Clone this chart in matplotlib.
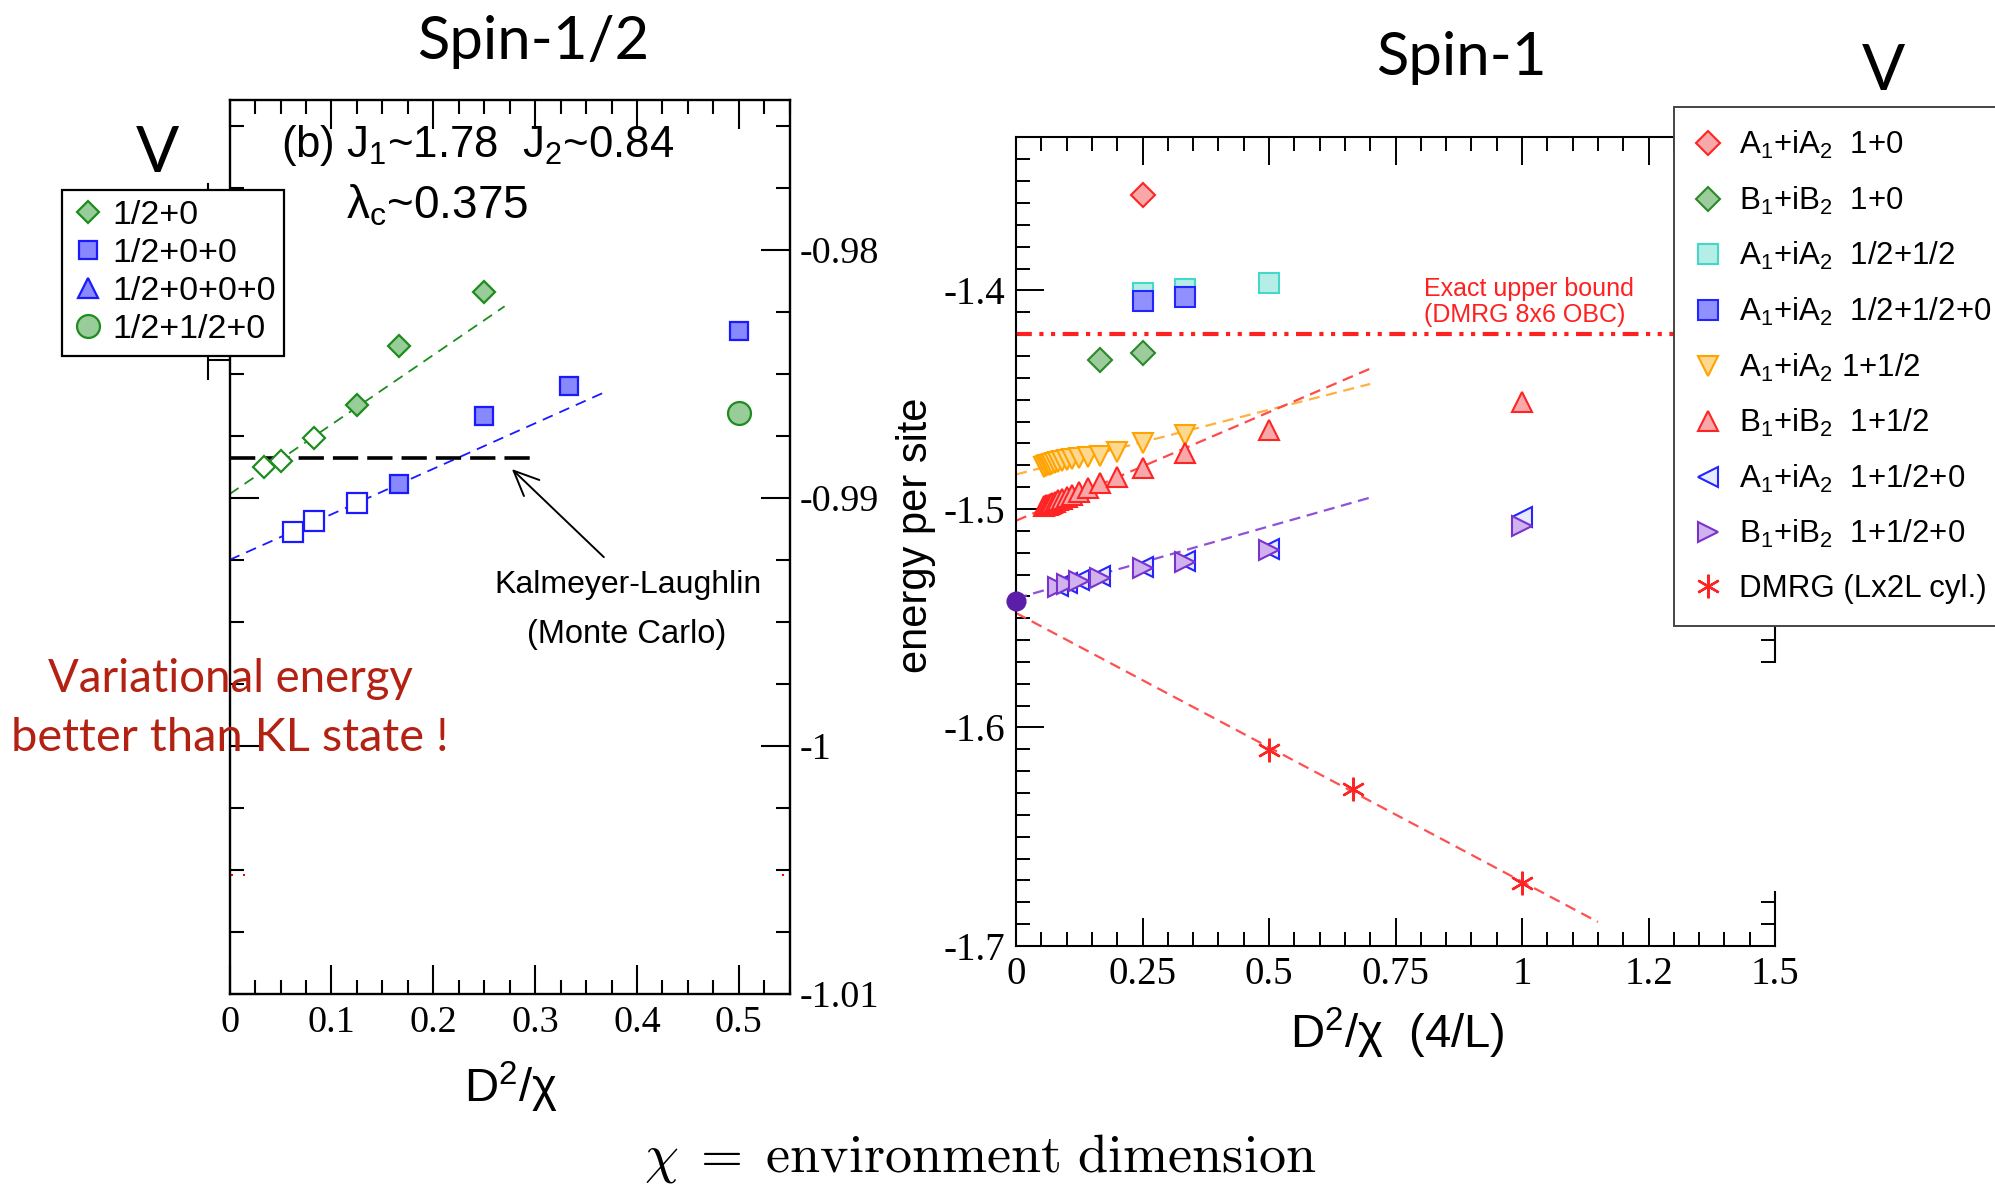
import matplotlib
matplotlib.use('Agg')
import matplotlib.pyplot as plt
from matplotlib.ticker import MultipleLocator, FixedLocator, FixedFormatter, FuncFormatter
from matplotlib.patches import Rectangle
from matplotlib.lines import Line2D

plt.rcParams['font.family'] = ['Liberation Sans', 'DejaVu Sans']
plt.rcParams['mathtext.fontset'] = 'custom'
plt.rcParams['mathtext.rm'] = 'Liberation Sans'
plt.rcParams['mathtext.it'] = 'Liberation Sans:italic'
plt.rcParams['mathtext.bf'] = 'Liberation Sans:bold'
plt.rcParams['axes.unicode_minus'] = False

# ---------------- data: Spin-1/2 panel ----------------
s12_a_open_x = [0.0333, 0.05, 0.0833]
s12_a_open_y = [-0.98877, -0.98853, -0.98758]
s12_a_fill_x = [0.125, 0.1667, 0.25]
s12_a_fill_y = [-0.98625, -0.98386, -0.98170]
s12_b_open_x = [0.0625, 0.0833, 0.125]
s12_b_open_y = [-0.99136, -0.99093, -0.99019]
s12_b_fill_x = [0.1667, 0.25, 0.3333, 0.5]
s12_b_fill_y = [-0.98946, -0.98671, -0.98548, -0.98329]
s12_c_x = []          # 1/2+0+0+0 (legend entry only)
s12_c_y = []
s12_d_x = [0.5]
s12_d_y = [-0.98657]
s12_fit_a_x = [0.0, 0.27]
s12_fit_a_y = [-0.98985, -0.98228]
s12_fit_b_x = [0.0, 0.37]
s12_fit_b_y = [-0.99250, -0.98571]
kl_x = [0.0, 0.30]
kl_y = [-0.98841, -0.98841]
s12_red_x = [0.0024, 0.014, 0.543]
s12_red_y = [-1.0052, -1.0052, -1.0052]
s12_labels = ['1/2+0', '1/2+0+0', '1/2+0+0+0', '1/2+1/2+0']
s12_xticks = [0, 0.1, 0.2, 0.3, 0.4, 0.5]
s12_yticks = [-1.01, -1.0, -0.99, -0.98]
s12_yticklabels = ['-1.01', '-1', '-0.99', '-0.98']

# ---------------- data: Spin-1 panel ----------------
a10_x = [0.25]
a10_y = [-1.3565]
b10_x = [0.1667, 0.25]
b10_y = [-1.4319, -1.4286]
ahh_x = [0.25, 0.3333, 0.5]
ahh_y = [-1.4012, -1.3994, -1.3966]
ahh0_x = [0.25, 0.3333]
ahh0_y = [-1.4047, -1.4029]
a1h_x = [0.0556, 0.0588, 0.0625, 0.0667, 0.0714, 0.0769, 0.0833, 0.0909,
         0.1, 0.1111, 0.125, 0.1429, 0.1667, 0.2, 0.25, 0.3333]
a1h_y = [-1.4806, -1.4803, -1.4800, -1.4797, -1.4794, -1.4790, -1.4786, -1.4782,
         -1.4778, -1.4773, -1.4768, -1.4763, -1.4758, -1.4738, -1.4697, -1.4662]
b1h_x = [0.0556, 0.0588, 0.0625, 0.0667, 0.0714, 0.0769, 0.0833, 0.0909,
         0.1, 0.1111, 0.125, 0.1429, 0.1667, 0.2, 0.25, 0.3333, 0.5, 1.0]
b1h_y = [-1.4987, -1.4984, -1.4980, -1.4976, -1.4972, -1.4967, -1.4961, -1.4954,
         -1.4945, -1.4935, -1.4922, -1.4905, -1.4883, -1.4855, -1.4811, -1.4746,
         -1.4640, -1.4510]
a1h0_x = [0.0833, 0.1, 0.125, 0.1667, 0.25, 0.3333, 0.5, 1.0]
a1h0_y = [-1.5352, -1.5338, -1.5325, -1.5308, -1.5266, -1.5238, -1.5182, -1.5035]
b1h0_x = [0.0833, 0.1, 0.125, 0.1667, 0.25, 0.3333, 0.5, 1.0]
b1h0_y = [-1.5358, -1.5344, -1.5330, -1.5314, -1.5272, -1.5243, -1.5188, -1.5078]
dmrg_x = [0.5, 0.6667, 1.0]
dmrg_y = [-1.6101, -1.6280, -1.6712]
extrap_x = [0.0]
extrap_y = [-1.5422]
fit_a1h_x = [0.0, 0.70]
fit_a1h_y = [-1.4842, -1.4428]
fit_b1h_x = [0.0, 0.70]
fit_b1h_y = [-1.5054, -1.4358]
fit_h0_x = [0.0, 0.70]
fit_h0_y = [-1.5409, -1.4948]
fit_dmrg_x = [0.0, 1.15]
fit_dmrg_y = [-1.5476, -1.6890]
bound_x = [0.0, 1.5]
bound_y = [-1.42, -1.42]
s1_labels = ['A$_1$+iA$_2$  1+0', 'B$_1$+iB$_2$  1+0', 'A$_1$+iA$_2$  1/2+1/2',
             'A$_1$+iA$_2$  1/2+1/2+0', 'A$_1$+iA$_2$ 1+1/2', 'B$_1$+iB$_2$  1+1/2',
             'A$_1$+iA$_2$  1+1/2+0', 'B$_1$+iB$_2$  1+1/2+0', 'DMRG (Lx2L cyl.)']
s1_xticks = [0, 0.25, 0.5, 0.75, 1.0, 1.25, 1.5]
s1_xticklabels = ['0', '0.25', '0.5', '0.75', '1', '1.2', '1.5']

W, H = 1995, 1186
fig = plt.figure(figsize=(W / 100, H / 100), dpi=100)


def fx(p):
    return p / W


def fy(p):
    return 1 - p / H


SERIF = 'Liberation Serif'
GILL = 'Lato'

# ======================= LEFT PANEL =======================
axL = fig.add_axes([fx(229.6), fy(994), fx(789.8) - fx(229.6), fy(100.4) - fy(994)])
axL.set_xlim(0, 0.55)
axL.set_ylim(-1.0100, -0.97398)
axL.xaxis.set_major_locator(FixedLocator(s12_xticks))
axL.xaxis.set_major_formatter(FixedFormatter(['%g' % v for v in s12_xticks]))
axL.xaxis.set_minor_locator(MultipleLocator(0.025))
axL.yaxis.set_major_locator(FixedLocator(s12_yticks))
axL.yaxis.set_major_formatter(FixedFormatter(s12_yticklabels))
axL.yaxis.set_minor_locator(MultipleLocator(0.0025))
axL.tick_params(which='both', direction='in', top=True, bottom=True, left=True, right=True,
                labelleft=False, labelright=True, width=1.5, labelsize=27.5,
                labelfontfamily=SERIF)
axL.tick_params(which='major', length=21)
axL.tick_params(which='minor', length=10)
axL.tick_params(axis='x', pad=8.5)
axL.tick_params(axis='y', pad=7)
for s in axL.spines.values():
    s.set_linewidth(1.7)

GREEN = '#1e8c1e'
GREEN_F = '#98cc98'
BLUE = '#1a1aff'
BLUE_F = '#8888ff'

axL.plot(s12_fit_a_x, s12_fit_a_y, color=GREEN, lw=1.3, ls=(0, (6, 4)), zorder=2)
axL.plot(s12_fit_b_x, s12_fit_b_y, color=BLUE, lw=1.3, ls=(0, (6, 4)), zorder=2)
axL.plot(kl_x, kl_y, color='k', lw=2.6, ls=(0, (7, 2.5)), zorder=2)
axL.plot(s12_red_x, s12_red_y, ls='none', marker='s', ms=1.8, color='red', mew=0, clip_on=False)

axL.plot(s12_a_open_x, s12_a_open_y, ls='none', marker='D', ms=11.5, mfc='white', mec=GREEN, mew=1.6, zorder=4)
hA, = axL.plot(s12_a_fill_x, s12_a_fill_y, ls='none', marker='D', ms=11.5, mfc=GREEN_F, mec=GREEN, mew=1.6, zorder=4)
axL.plot(s12_b_open_x, s12_b_open_y, ls='none', marker='s', ms=14.5, mfc='white', mec=BLUE, mew=1.6, zorder=4)
hB, = axL.plot(s12_b_fill_x, s12_b_fill_y, ls='none', marker='s', ms=13.5, mfc=BLUE_F, mec=BLUE, mew=1.6, zorder=4)
hC, = axL.plot(s12_c_x, s12_c_y, ls='none', marker='^', ms=15, mfc=BLUE_F, mec=BLUE, mew=1.6, zorder=4)
hD, = axL.plot(s12_d_x, s12_d_y, ls='none', marker='o', ms=16.5, mfc=GREEN_F, mec=GREEN, mew=1.6, zorder=4,
               clip_on=False)

legL = axL.legend([hA, hB, hC, hD], s12_labels, loc='upper left',
                  bbox_to_anchor=(fx(62), fy(349.4), fx(284) - fx(62), fy(189.7) - fy(349.4)),
                  bbox_transform=fig.transFigure, mode='expand', borderaxespad=0,
                  fontsize=24.5, labelspacing=0.21, handlelength=0.92, handletextpad=0.25,
                  borderpad=0.3, fancybox=False, edgecolor='k', framealpha=1, markerscale=1.0)
legL.get_frame().set_linewidth(1.6)
legL.set_zorder(10)

# artefacts of an underlying axis left of the panel
fig.add_artist(Line2D([fx(208), fx(208)], [fy(184), fy(379)], color='k', lw=1.5, zorder=-1))
fig.add_artist(Line2D([fx(208), fx(229.6)], [fy(360), fy(360)], color='k', lw=1.5, zorder=-1))

axL.annotate('', xy=(0.2771, -0.98884), xytext=(0.3674, -0.99239),
             arrowprops=dict(arrowstyle='->,head_length=0.9,head_width=0.4', lw=1.4, color='k',
                             shrinkA=0, shrinkB=0, mutation_scale=20))

fig.text(fx(281), fy(157), '(b) J$_1$~1.78  J$_2$~0.84', fontsize=31.5, ha='left', va='baseline')
fig.text(fx(346), fy(218), 'λ$_\\mathrm{c}$~0.375', fontsize=33, ha='left', va='baseline')
fig.text(fx(628), fy(592.6), 'Kalmeyer-Laughlin', fontsize=23, ha='center', va='baseline')
fig.text(fx(627), fy(642.5), '(Monte Carlo)', fontsize=23.5, ha='center', va='baseline')

fig.text(fx(533), fy(59.4), 'Spin-1/2', fontsize=43, family=GILL, ha='center', va='baseline')
fig.text(fx(157), fy(172), 'V', fontsize=46, family=GILL, ha='center', va='baseline')
fig.text(fx(511), fy(1102.5), 'D$^2$/χ', fontsize=34, ha='center', va='baseline')

DARKRED = '#b32112'
fig.text(fx(230), fy(692), 'Variational energy', fontsize=32.8, family=GILL, color=DARKRED,
         ha='center', va='baseline', zorder=20)
fig.text(fx(230), fy(751), 'better than KL state !', fontsize=33.8, family=GILL, color=DARKRED,
         ha='center', va='baseline', zorder=20)

# ======================= RIGHT PANEL =======================
axR = fig.add_axes([fx(1016), fy(946), fx(1775) - fx(1016), fy(136.8) - fy(946)])
axR.set_xlim(0, 1.5)
axR.set_ylim(-1.7, -1.3297)
axR.xaxis.set_major_locator(FixedLocator(s1_xticks))
axR.xaxis.set_major_formatter(FixedFormatter(s1_xticklabels))
axR.xaxis.set_minor_locator(MultipleLocator(0.05))
axR.yaxis.set_major_locator(MultipleLocator(0.1))
axR.yaxis.set_major_formatter(FuncFormatter(lambda v, p: '%g' % round(v, 3)))
axR.yaxis.set_minor_locator(MultipleLocator(0.01))
axR.tick_params(which='both', direction='in', top=True, bottom=True, left=True, right=True,
                width=1.4, labelsize=28, labelfontfamily=SERIF)
axR.tick_params(which='major', length=20)
axR.tick_params(which='minor', length=10)
axR.tick_params(axis='x', pad=7.5)
axR.tick_params(axis='y', pad=8)
for s in axR.spines.values():
    s.set_linewidth(1.5)

RED = '#ff2424'
RED_F = '#f8a8a8'
GRN = '#2a8a2a'
GRN_F = '#9ccc9c'
CYAN = '#44d8c8'
CYAN_F = '#b4eee6'
BLU = '#2424ff'
BLU_F = '#9090ff'
ORANGE = '#ffa300'
ORANGE_F = '#ffd890'
PURPLE = '#7a32cc'
PURPLE_F = '#cfb2ee'

axR.plot(bound_x, bound_y, color='#ff2020', lw=3.0, ls=(0, (3.8, 1.8, 1, 1.8, 1, 1.8)), zorder=2)
axR.plot(fit_a1h_x, fit_a1h_y, color='#ffb040', lw=1.6, ls=(0, (5, 3)), zorder=2)
axR.plot(fit_b1h_x, fit_b1h_y, color='#ff4a4a', lw=1.6, ls=(0, (5, 3)), zorder=2)
axR.plot(fit_h0_x, fit_h0_y, color='#9050d8', lw=1.6, ls=(0, (5, 3)), zorder=2)
axR.plot(fit_dmrg_x, fit_dmrg_y, color='#ff5050', lw=1.6, ls=(0, (5, 3)), zorder=2)

MS = 15
h1, = axR.plot(a10_x, a10_y, ls='none', marker='D', ms=12, mfc=RED_F, mec=RED, mew=1.5, zorder=4)
h2, = axR.plot(b10_x, b10_y, ls='none', marker='D', ms=12, mfc=GRN_F, mec=GRN, mew=1.5, zorder=4)
h3, = axR.plot(ahh_x, ahh_y, ls='none', marker='s', ms=14, mfc=CYAN_F, mec=CYAN, mew=1.5, zorder=4)
h4, = axR.plot(ahh0_x, ahh0_y, ls='none', marker='s', ms=14, mfc=BLU_F, mec=BLU, mew=1.5, zorder=4)
h5, = axR.plot(a1h_x, a1h_y, ls='none', marker='v', ms=MS, mfc=ORANGE_F, mec=ORANGE, mew=1.5, zorder=4)
h6, = axR.plot(b1h_x, b1h_y, ls='none', marker='^', ms=MS, mfc=RED_F, mec=RED, mew=1.5, zorder=4)
h7, = axR.plot(a1h0_x, a1h0_y, ls='none', marker='<', ms=MS, mfc='#e6ebff', mec=BLU, mew=1.5, zorder=4)
h8, = axR.plot(b1h0_x, b1h0_y, ls='none', marker='>', ms=MS, mfc=PURPLE_F, mec=PURPLE, mew=1.5, zorder=4)
h9, = axR.plot(dmrg_x, dmrg_y, ls='none', marker=(6, 2, 0), ms=17, mec=RED, mew=1.7, zorder=4)
axR.plot(extrap_x, extrap_y, ls='none', marker='o', ms=13.5, mfc='#5a1ea8', mec='#5a1ea8', zorder=5,
         clip_on=False)

legR = axR.legend([h1, h2, h3, h4, h5, h6, h7, h8, h9], s1_labels, loc='upper left',
                  bbox_to_anchor=(fx(1674), fy(619), 1.02 - fx(1674), fy(106.8) - fy(619)),
                  bbox_transform=fig.transFigure, mode='expand', borderaxespad=0,
                  fontsize=22.5, labelspacing=0.75, handlelength=0.75, handletextpad=0.62,
                  borderpad=0.72, fancybox=False, edgecolor='#444444', framealpha=1)
legR.get_frame().set_linewidth(1.4)
legR.set_zorder(10)

# gap in the right frame line
fig.add_artist(Rectangle((fx(1735), fy(891)), fx(1790) - fx(1735), fy(663) - fy(891),
                         transform=fig.transFigure, facecolor='white', edgecolor='none', zorder=5))

fig.text(fx(1424), fy(296.4), 'Exact upper bound', fontsize=18, color='#ff2020', ha='left', va='baseline')
fig.text(fx(1424), fy(322), '(DMRG 8x6 OBC)', fontsize=18, color='#ff2020', ha='left', va='baseline')

fig.text(fx(916), fy(535), 'energy per site', fontsize=30, rotation=90, ha='center', va='center')
fig.text(fx(1397), fy(1048.4), 'D$^2$/χ  (4/L)', fontsize=34, ha='center', va='baseline')

fig.text(fx(1461), fy(75), 'Spin-1', fontsize=43, family=GILL, ha='center', va='baseline')
fig.text(fx(1883), fy(90), 'V', fontsize=46, family=GILL, ha='center', va='baseline')

fig.text(fx(980), fy(1171.7), r'$\chi \;=\; \mathrm{environment\ dimension}$', fontsize=39,
         math_fontfamily='cm', ha='center', va='baseline')

fig.savefig('out.png', dpi=100)
